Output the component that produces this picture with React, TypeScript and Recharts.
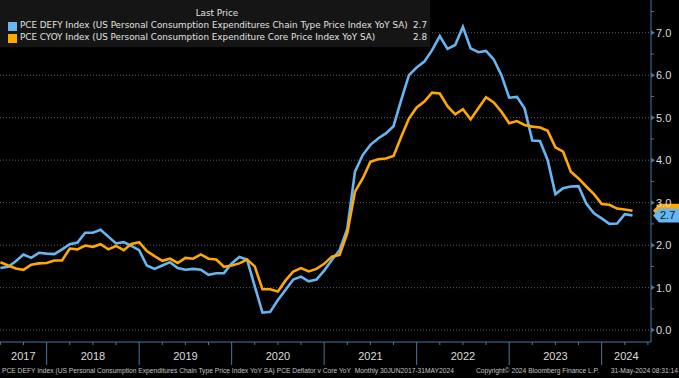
import React from "react";
import { LineChart, Line, XAxis, YAxis, CartesianGrid, ReferenceDot } from "recharts";

// monthly YoY %, Jun 2017 .. Apr 2024 (index 0 = Jun 2017)
const pceDefy = [
  1.46, 1.49, 1.62, 1.78, 1.7, 1.82, 1.8,
  1.79, 1.9, 2.02, 2.06, 2.29, 2.29, 2.36, 2.2, 2.04, 2.07, 1.98, 1.88,
  1.52, 1.44, 1.52, 1.6, 1.46, 1.42, 1.44, 1.42, 1.3, 1.34, 1.34, 1.57,
  1.72, 1.66, 1.03, 0.41, 0.43, 0.71, 0.95, 1.19, 1.26, 1.15, 1.19, 1.4,
  1.65, 1.88, 2.38, 3.73, 4.12, 4.36, 4.51, 4.63, 4.8, 5.42, 6.0, 6.18,
  6.32, 6.59, 6.92, 6.62, 6.71, 7.14, 6.63, 6.54, 6.57, 6.37, 6.0, 5.47,
  5.49, 5.22, 4.46, 4.45, 4.0, 3.2, 3.34, 3.38, 3.39, 2.98, 2.75, 2.63,
  2.5, 2.51, 2.73, 2.7,
];

const pceCyoy = [
  1.6, 1.52, 1.45, 1.42, 1.54, 1.57, 1.58,
  1.64, 1.64, 1.92, 1.9, 1.99, 1.96, 2.02, 1.9, 1.98, 1.88, 2.03, 2.07,
  1.86, 1.74, 1.63, 1.68, 1.58, 1.7, 1.68, 1.78, 1.68, 1.66, 1.49, 1.52,
  1.57, 1.66, 1.5, 0.96, 0.96, 0.91, 1.17, 1.38, 1.46, 1.38, 1.44, 1.56,
  1.73, 1.77, 2.28, 3.26, 3.57, 3.96, 4.02, 4.04, 4.1, 4.55, 4.98, 5.24,
  5.38, 5.59, 5.57, 5.27, 5.08, 5.2, 4.96, 5.22, 5.48, 5.36, 5.14, 4.87,
  4.92, 4.83, 4.79, 4.77, 4.69, 4.3, 4.2, 3.73, 3.57, 3.38, 3.2, 2.97,
  2.95, 2.86, 2.84, 2.81,
];

const years = ["2017", "2018", "2019", "2020", "2021", "2022", "2023", "2024"];
const yTicks = [0, 0.5, 1, 1.5, 2, 2.5, 3, 3.5, 4, 4.5, 5, 5.5, 6, 6.5, 7, 7.5];
const gridValues = [0, 1, 2, 3, 4, 5, 6, 7];

const BLUE = "#66b6f2";
const ORANGE = "#ffa800";
const AXIS = "#4a76a0";
const FONT = '"Liberation Sans", Arial, sans-serif';
const LEGEND_FONT = '"DejaVu Sans", Verdana, sans-serif';

const X_MIN = -0.05;
const X_MAX = 84.4;
const Y_MIN = -0.28;
const Y_MAX = 7.77;

const data = pceDefy.map((v, j) => ({ j, defy: v, cyoy: pceCyoy[j] }));

// quarter ticks, year starts (index of Dec point = Jan 1)
const quarterTicks: number[] = [];
for (let q = 0; q <= 84; q += 3) quarterTicks.push(q);
const yearStarts = years.slice(1).map((_, k) => 6 + 12 * k);
const labelPos = new Map<number, string>();
years.forEach((yr, k) => {
  if (k === 0) labelPos.set((X_MIN + 6) / 2, yr);
  else if (k === years.length - 1) labelPos.set((yearStarts[k - 1] + X_MAX) / 2, yr);
  else labelPos.set(6 + 12 * (k - 1) + 6, yr);
});
const xTicks = Array.from(new Set([...quarterTicks, ...labelPos.keys()])).sort((a, b) => a - b);

const XTick = (props: any) => {
  const { x, y, payload } = props;
  const v = payload.value;
  const lab = labelPos.get(v);
  return (
    <g>
      {yearStarts.includes(v) ? (
        <line x1={x} y1={y} x2={x} y2={y + 23} stroke={AXIS} strokeWidth={1} />
      ) : quarterTicks.includes(v) ? (
        <line x1={x} y1={y} x2={x} y2={y + 3} stroke={AXIS} strokeWidth={1} />
      ) : null}
      {lab && (
        <text x={x} y={y + 18} textAnchor="middle" fontSize={11} fontFamily={FONT} fill="#dcdcdc">
          {lab}
        </text>
      )}
    </g>
  );
};

const YTick = (props: any) => {
  const { x, y, payload } = props;
  const v = payload.value;
  if (v % 1 !== 0) {
    return <line x1={x} y1={y} x2={x + 3} y2={y} stroke={AXIS} strokeWidth={1} />;
  }
  return (
    <g>
      <polygon points={`${x},${y - 2.5} ${x + 4},${y} ${x},${y + 2.5}`} fill={AXIS} />
      <text x={x + 5} y={y} dy="0.36em" fontSize={11} fontFamily={FONT} fill="#dcdcdc">
        {v.toFixed(1)}
      </text>
    </g>
  );
};

// last-price tag on the right axis; the core tag sits behind the headline one
const Tag = (props: any) => {
  const { cx, cy, color, text } = props;
  return (
    <g>
      <polygon
        points={`${cx + 2},${cy} ${cx + 8},${cy - 7} ${cx + 28},${cy - 7} ${cx + 28},${cy + 7} ${cx + 8},${cy + 7}`}
        fill={color}
      />
      {text && (
        <text x={cx + 9} y={cy} dy="0.36em" fontSize={11} fontFamily={FONT} fill="#0b1a2c">
          {text}
        </text>
      )}
    </g>
  );
};

const lastDefy = pceDefy[pceDefy.length - 1];
const lastCyoy = pceCyoy[pceCyoy.length - 1];

const legendRows = [
  { color: BLUE, name: "PCE DEFY Index (US Personal Consumption Expenditures Chain Type Price Index YoY SA)", value: lastDefy },
  { color: ORANGE, name: "PCE CYOY Index (US Personal Consumption Expenditure Core Price Index YoY SA)", value: lastCyoy },
];

export default function App() {
  return (
    <div style={{ position: "absolute", left: 0, top: 0, width: 679, height: 378, background: "#000", fontFamily: FONT }}>
      <LineChart width={679} height={366} data={data} margin={{ top: 0, right: 0, bottom: 0, left: 0 }}>
        <CartesianGrid vertical={false} horizontalValues={gridValues} stroke="#5c5c5c" strokeDasharray="1 2" />
        <XAxis
          dataKey="j"
          type="number"
          domain={[X_MIN, X_MAX]}
          allowDataOverflow
          ticks={xTicks}
          interval={0}
          height={24}
          tickSize={0}
          tickMargin={0}
          tickLine={false}
          axisLine={{ stroke: AXIS }}
          tick={<XTick />}
        />
        <YAxis
          orientation="right"
          type="number"
          domain={[Y_MIN, Y_MAX]}
          allowDataOverflow
          ticks={yTicks}
          interval={0}
          width={28}
          tickSize={0}
          tickMargin={0}
          tickLine={false}
          axisLine={{ stroke: AXIS }}
          tick={<YTick />}
        />
        <Line dataKey="defy" stroke={BLUE} strokeWidth={2.6} dot={false} isAnimationActive={false} />
        <Line dataKey="cyoy" stroke={ORANGE} strokeWidth={2.6} dot={false} isAnimationActive={false} />
        <ReferenceDot x={X_MAX} y={lastCyoy} ifOverflow="visible" shape={<Tag color={ORANGE} />} />
        <ReferenceDot x={X_MAX} y={lastDefy} ifOverflow="visible" shape={<Tag color={BLUE} text={lastDefy.toFixed(1)} />} />
      </LineChart>

      <div style={{ position: "absolute", left: 0, top: 0, width: 430, height: 47, background: "#151515", color: "#e2e2e2", fontSize: 8.8, fontFamily: LEGEND_FONT }}>
        <div style={{ position: "absolute", left: 0, width: 434, top: 8, textAlign: "center" }}>Last Price</div>
        {legendRows.map((r, k) => (
          <div key={r.name} style={{ position: "absolute", left: 8, top: 20 + k * 12, height: 12, width: 419, whiteSpace: "nowrap" }}>
            <span style={{ position: "absolute", left: 0, top: 2, width: 9, height: 9, background: r.color }} />
            <span style={{ position: "absolute", left: 12, top: 0 }}>{r.name}</span>
            <span style={{ position: "absolute", right: 0, top: 0 }}>{r.value.toFixed(1)}</span>
          </div>
        ))}
      </div>

      <div style={{ position: "absolute", left: 0, top: 366, width: 679, height: 12, color: "#c4c4c4", fontSize: 6.7, whiteSpace: "nowrap" }}>
        <span style={{ position: "absolute", left: 2, top: 1 }}>
          PCE DEFY Index (US Personal Consumption Expenditures Chain Type Price Index YoY SA) PCE Deflator v Core YoY&nbsp;&nbsp;Monthly 30JUN2017-31MAY2024
        </span>
        <span style={{ position: "absolute", left: 476, top: 1 }}>Copyright© 2024 Bloomberg Finance L.P.</span>
        <span style={{ position: "absolute", right: 1, top: 1 }}>31-May-2024 08:31:14</span>
      </div>
    </div>
  );
}
